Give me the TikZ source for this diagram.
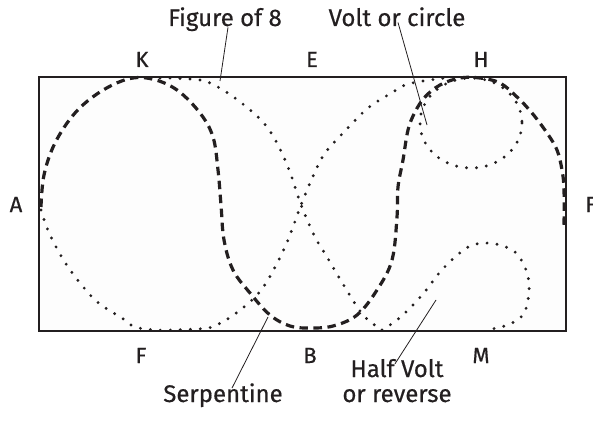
\documentclass[tikz,border=0pt]{standalone}
\usepackage{fontspec}
\setmainfont{Fira Sans}[FakeBold=0.5]
\definecolor{arenaink}  {RGB}{35,31,32}
\definecolor{arenafill} {RGB}{253,253,253}
\usetikzlibrary{calc}
\tikzset{
  arena/.style={draw=arenaink,fill=arenafill,line width=2.4pt},
  lbl/.style={text=arenaink,font=\fontsize{24}{25}\selectfont,anchor=base,inner sep=0pt,align=center},
  ltr/.style={text=arenaink,font=\fontsize{22}{24}\selectfont,anchor=base,inner sep=0pt},
  leader/.style={draw=arenaink,line width=0.8pt},
  serpline/.style={draw=arenaink,line width=3.2pt,dash pattern=on 8.5pt off 5.5pt},
  dotline/.style={draw=arenaink,line width=3.2pt,line cap=round,dash pattern=on 0pt off 10pt},
}
\begin{document}
\begin{tikzpicture}[x=1pt,y=-1pt]
  \useasboundingbox (0,0) rectangle (593,433);
  \path[arena] (39,77) rectangle (566,331);
  % letters round the arena
  \node[ltr] (K) at (142,67) {K};
  \node[ltr] (E) at (312,67) {E};
  \node[ltr] (H) at (481,67) {H};
  \node[ltr] (A) at (16,212) {A};
  \node[ltr,anchor=base west] (C) at (585,212) {F};
  \node[ltr] (F) at (141,363) {F};
  \node[ltr] (B) at (310,363) {B};
  \node[ltr] (M) at (481,363) {M};
  % figures
  \draw[dotline] plot[smooth,tension=0.55] coordinates {
    (41,210) (50,235) (68,267) (92,297) (107,309) (122,318) (135,327)
    (156,330) (172,330) (196,329) (212,327) (235,314) (262,289) (285,247)
    (301,205) (314,174) (325,153) (344,132) (368,108) (393,92) (405,85)
    (423,81) (445,78)};
  \draw[dotline] plot[smooth,tension=0.55] coordinates {
    (160,78) (200,80) (223,90) (249,109) (267,127) (280,149) (291,175)
    (301,205) (315,237) (327,257) (343,284) (363,315) (382,330)};
  \draw[dotline] (471,123) ellipse [x radius=51,y radius=45];
  \draw[dotline] plot[smooth,tension=0.55] coordinates {
    (382,330) (397,320) (413,305) (427,289) (440,272) (455,257) (470,246)
    (485,243) (500,245) (515,252) (524,265) (529,282) (528,300) (523,315)
    (510,324) (497,328) (485,330)};
  \draw[serpline] plot[smooth,tension=0.6] coordinates {
    (41,207) (44,175) (55,143) (75,113) (100,92) (128,79) (152,79)
    (177,90) (200,113) (213,137) (218,170) (221,205) (224,240)
    (233,270) (250,293) (270,315) (290,326) (310,328) (333,326) (357,315)
    (377,290) (392,260) (397,217) (398,187) (403,160) (408,130) (415,112)
    (425,97) (440,85) (460,78) (480,78) (500,83) (517,97) (532,113)
    (547,133) (557,150) (562,170) (564,190) (564,228)};
  % labels and leaders
  \node[lbl] (fig8) at (225,26) {Figure of 8};
  \node[lbl] (volt) at (397,26) {Volt or circle};
  \node[lbl] (serp) at (223,402) {Serpentine};
  \node[lbl] (half) at (397,402) {Half Volt\\or reverse};
  \coordinate (fig8end) at (220,81);
  \coordinate (voltend) at (427,125);
  \coordinate (serpend) at (268,317);
  \coordinate (halfend) at (436,300);
  \draw[leader] ($(fig8.south)+(3,-4)$) -- (fig8end);
  \draw[leader] ($(volt.south)+(1,-4)$) -- (voltend);
  \draw[leader] ($(serp.north)+(9,5)$) -- (serpend);
  \draw[leader] ($(half.north)+(-2,5)$) -- (halfend);
\end{tikzpicture}
\end{document}
